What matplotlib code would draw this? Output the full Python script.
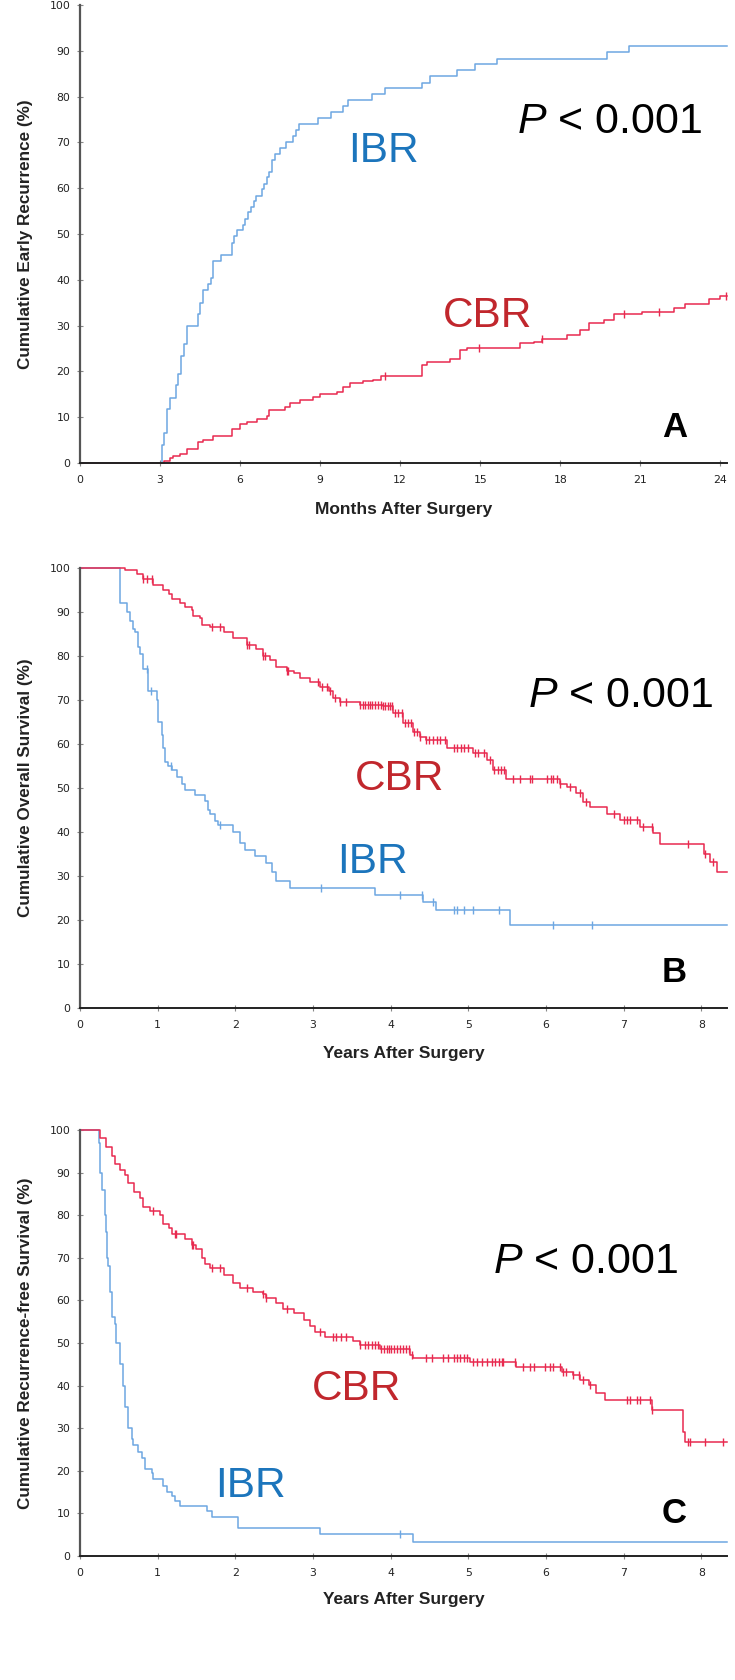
import numpy as np
import matplotlib
matplotlib.use("Agg")
import matplotlib.pyplot as plt

plt.rcParams["mathtext.fontset"] = "custom"
plt.rcParams["mathtext.rm"] = "Liberation Sans"
plt.rcParams["mathtext.it"] = "Liberation Sans:italic"

# ---- Panel A: cumulative early recurrence (months) ----
ibr_a_t = [0, 3.06, 3.16, 3.25, 3.375, 3.59, 3.69, 3.79, 3.9, 4.0,
           4.44, 4.5, 4.6, 4.79, 4.9, 5.0, 5.29, 5.69, 5.79, 5.9,
           6.1, 6.19, 6.31, 6.4, 6.53, 6.6, 6.81, 6.91, 7.0, 7.1,
           7.21, 7.31, 7.5, 7.71, 8.0, 8.1, 8.21, 8.91, 9.41, 9.84,
           10.03, 10.94, 11.44, 12.81, 13.125, 14.125, 14.81, 15.625, 19.75, 20.56]
ibr_a_v = [0, 4.0, 6.6, 11.8, 14.3, 17.0, 19.5, 23.3, 26.0, 30.0,
           32.5, 35.0, 37.7, 39.0, 40.3, 44.2, 45.5, 48.0, 49.6, 50.8,
           52.0, 53.3, 54.7, 56.0, 57.3, 58.4, 59.8, 61.0, 62.4, 63.6,
           66.2, 67.5, 68.8, 70.1, 71.4, 72.8, 74.0, 75.3, 76.6, 77.9,
           79.2, 80.5, 81.9, 83.0, 84.5, 85.8, 87.1, 88.3, 89.7, 91.0]
ibr_a_cens = []

cbr_a_t = [0, 3.15, 3.375, 3.5, 3.75, 4.0, 4.44, 4.625, 5.0, 5.69,
           6.0, 6.25, 6.625, 7.0, 7.1, 7.69, 7.875, 8.25, 8.75, 9.0,
           9.625, 9.875, 10.125, 10.625, 11.0, 11.3, 12.81, 13.0, 13.875, 14.25,
           14.5, 16.5, 17.0, 17.3, 18.25, 18.75, 19.06, 19.625, 20.0, 21.06,
           22.25, 22.69, 23.56, 24.0]
cbr_a_v = [0, 0.5, 1.0, 1.6, 2.0, 3.0, 4.5, 5.0, 6.0, 7.5,
           8.5, 9.0, 9.7, 10.3, 11.5, 12.2, 13.0, 13.7, 14.5, 15.0,
           15.5, 16.5, 17.5, 17.8, 18.1, 19.0, 21.3, 22.1, 22.8, 24.6,
           25.2, 26.1, 26.4, 27.0, 27.9, 29.0, 30.6, 31.3, 32.5, 33.0,
           33.9, 34.8, 35.9, 36.4]
cbr_a_cens = [11.44, 14.94, 17.31, 20.375, 21.69, 24.2]

# ---- Panel B: overall survival (years) ----
ibr_b_t = [0, 0.515, 0.6, 0.644, 0.687, 0.708, 0.751, 0.773, 0.815, 0.88,
           0.987, 1.009, 1.05, 1.07, 1.094, 1.137, 1.18, 1.245, 1.31, 1.35,
           1.48, 1.61, 1.65, 1.67, 1.74, 1.78, 1.97, 2.06, 2.12, 2.25,
           2.4, 2.47, 2.53, 2.7, 3.8, 4.42, 4.59, 5.54]
ibr_b_v = [100, 92, 90, 88, 86, 85.5, 82, 80.5, 77, 72,
           70, 65, 62, 59, 56, 55, 54, 52.5, 51, 49.5,
           48.5, 47, 45, 44, 42.5, 41.5, 40, 37.5, 36, 34.5,
           33, 31, 29, 27.2, 25.7, 24.2, 22.3, 18.9]
ibr_b_cens = [0.86, 0.92, 1.17, 1.8, 3.1, 4.12, 4.4, 4.55, 4.81, 4.85,
              4.94, 5.06, 5.39, 6.09, 6.59]

cbr_b_t = [0, 0.58, 0.73, 0.815, 0.94, 1.07, 1.14, 1.18, 1.29, 1.35,
           1.44, 1.46, 1.55, 1.57, 1.67, 1.85, 1.97, 2.15, 2.27, 2.36,
           2.45, 2.53, 2.66, 2.75, 2.83, 2.96, 3.09, 3.2, 3.26, 3.35,
           3.6, 3.9, 4.03, 4.16, 4.29, 4.38, 4.46, 4.72, 5.06, 5.24,
           5.32, 5.49, 6.18, 6.27, 6.39, 6.48, 6.57, 6.78, 6.95, 7.21,
           7.38, 7.47, 8.03, 8.11, 8.2]
cbr_b_v = [100, 99.5, 98.5, 97.5, 96, 95, 94, 93, 92, 91,
           90.5, 89, 88.5, 87, 86.5, 85.5, 84, 82.5, 81.5, 80,
           79, 77.5, 76.5, 76, 75, 74, 73, 72, 70.5, 69.5,
           68.9, 68.5, 67.0, 64.7, 62.8, 61.6, 60.9, 59.0, 57.9, 56.4,
           54.1, 52.0, 51.0, 50.3, 48.8, 46.9, 45.8, 44.2, 42.7, 41.2,
           39.7, 37.4, 35.1, 33.3, 31.0]
cbr_b_cens = [0.815, 0.86, 0.93, 1.7, 1.8, 2.15, 2.17, 2.36, 2.38, 2.66,
              2.68, 3.07, 3.11, 3.18, 3.22, 3.28, 3.35, 3.43, 3.6, 3.64,
              3.67, 3.71, 3.74, 3.76, 3.8, 3.84, 3.87, 3.9, 3.93, 3.96,
              3.99, 4.02, 4.06, 4.1, 4.14, 4.18, 4.22, 4.26, 4.3, 4.34,
              4.38, 4.46, 4.5, 4.55, 4.6, 4.64, 4.7, 4.81, 4.86, 4.9,
              4.95, 5.0, 5.08, 5.13, 5.2, 5.28, 5.33, 5.38, 5.42, 5.46,
              5.58, 5.67, 5.79, 5.82, 6.01, 6.06, 6.09, 6.14, 6.18, 6.31,
              6.44, 6.52, 6.87, 7.0, 7.04, 7.08, 7.17, 7.25, 7.36, 7.83,
              8.05, 8.15]

# ---- Panel C: recurrence-free survival (years) ----
ibr_c_t = [0, 0.245, 0.258, 0.28, 0.32, 0.335, 0.343, 0.365, 0.386, 0.408,
           0.45, 0.47, 0.515, 0.558, 0.58, 0.622, 0.665, 0.687, 0.75, 0.794,
           0.837, 0.923, 0.944, 1.073, 1.116, 1.18, 1.223, 1.288, 1.63, 1.695,
           2.04, 3.09, 4.29]
ibr_c_v = [100, 97, 90, 86, 80, 76, 70, 68, 62, 56,
           54.5, 50, 45, 40, 35, 30, 27.5, 26, 24.5, 23,
           20.5, 19.5, 18, 16.5, 15, 14, 13, 11.8, 10.5, 9.2,
           6.5, 5.1, 3.4]
ibr_c_cens = [4.12]

cbr_c_t = [0, 0.26, 0.34, 0.41, 0.45, 0.515, 0.58, 0.62, 0.69, 0.77,
           0.815, 0.9, 1.03, 1.07, 1.14, 1.18, 1.35, 1.44, 1.5, 1.57,
           1.61, 1.67, 1.85, 1.97, 2.06, 2.23, 2.36, 2.4, 2.53, 2.62,
           2.75, 2.88, 2.96, 3.03, 3.15, 3.52, 3.6, 3.86, 4.25, 4.29,
           5.02, 5.62, 6.2, 6.35, 6.44, 6.55, 6.65, 6.76, 7.36, 7.77,
           7.79]
cbr_c_v = [100, 98, 96, 94, 92, 90.5, 89.5, 87.5, 85.5, 84,
           82, 81, 80, 78, 77, 75.5, 74.5, 73, 72, 70,
           68.5, 67.5, 66, 64, 63, 62, 61.5, 60.5, 59.5, 58,
           57, 55.5, 54, 52.5, 51.5, 50.5, 49.5, 48.7, 47.2, 46.4,
           45.6, 44.4, 43.3, 42.5, 41.3, 40.1, 38.2, 36.6, 34.3, 29.2,
           26.8]
cbr_c_cens = [0.94, 1.22, 1.24, 1.44, 1.46, 1.7, 1.8, 2.15, 2.36, 2.4,
              2.66, 3.09, 3.26, 3.3, 3.36, 3.43, 3.6, 3.67, 3.71, 3.76,
              3.8, 3.84, 3.88, 3.92, 3.95, 3.98, 4.01, 4.04, 4.08, 4.12,
              4.16, 4.2, 4.24, 4.28, 4.46, 4.53, 4.68, 4.74, 4.81, 4.85,
              4.89, 4.94, 4.98, 5.06, 5.11, 5.17, 5.24, 5.3, 5.34, 5.39,
              5.43, 5.45, 5.6, 5.71, 5.8, 5.84, 5.99, 6.05, 6.09, 6.18,
              6.22, 6.26, 6.35, 6.42, 6.48, 6.57, 7.04, 7.08, 7.17, 7.21,
              7.34, 7.36, 7.83, 7.85, 8.05, 8.28]

ylabels = ["Cumulative Early Recurrence (%)",
           "Cumulative Overall Survival (%)",
           "Cumulative Recurrence-free Survival (%)"]
xlabels = ["Months After Surgery", "Years After Surgery", "Years After Surgery"]
panel_tags = ["A", "B", "C"]

IBR_LINE = "#6ea7e2"
CBR_LINE = "#e8294f"
IBR_TEXT = "#1c75bc"
CBR_TEXT = "#c1272d"


def km(ax, t, v, cens, color, xmax):
    ax.step(t + [xmax], v + [v[-1]], where="post", color=color, lw=1.1,
            clip_on=False, zorder=2)
    if cens:
        t_arr = np.array(t)
        cy = [v[np.searchsorted(t_arr, c, side="right") - 1] for c in cens]
        ax.plot(cens, cy, ls="none", marker="|", ms=6, mew=1.0, color=color,
                clip_on=False, zorder=2)


fig = plt.figure(figsize=(7.35, 16.8), dpi=100)

# [left, bottom, width, height] in figure fraction
boxes = [[0.1088, 0.7244, 0.8803, 0.2726],
         [0.1088, 0.3998, 0.8803, 0.2623],
         [0.1088, 0.0738, 0.8803, 0.2536]]
xmaxs = [24.25, 8.33, 8.33]
xticks = [np.arange(0, 25, 3), np.arange(0, 9, 1)]
label_y = [-0.1026, -0.1015, -0.103]

# text positions (axes fraction): P-value, IBR, CBR, panel letter
p_pos = [(0.675, 0.72), (0.6924, 0.6845), (0.6383, 0.6636)]
ibr_pos = [(0.414, 0.658), (0.397, 0.3073), (0.2087, 0.1392)]
cbr_pos = [(0.561, 0.297), (0.425, 0.4955), (0.3586, 0.3662)]
tag_pos = [(0.8995, 0.0568), (0.8995, 0.0597), (0.8995, 0.0767)]

curves = [
    (ibr_a_t, ibr_a_v, ibr_a_cens, cbr_a_t, cbr_a_v, cbr_a_cens),
    (ibr_b_t, ibr_b_v, ibr_b_cens, cbr_b_t, cbr_b_v, cbr_b_cens),
    (ibr_c_t, ibr_c_v, ibr_c_cens, cbr_c_t, cbr_c_v, cbr_c_cens),
]

for i in range(3):
    ax = fig.add_axes(boxes[i])
    it, iv, ic, ct, cv, cc = curves[i]
    km(ax, it, iv, ic, IBR_LINE, xmaxs[i])
    km(ax, ct, cv, cc, CBR_LINE, xmaxs[i])

    ax.set_xlim(0, xmaxs[i])
    ax.set_ylim(0, 100)
    ax.set_xticks(xticks[0] if i == 0 else xticks[1])
    ax.set_yticks(np.arange(0, 101, 10))

    for s in ["top", "right"]:
        ax.spines[s].set_visible(False)
    ax.spines["left"].set_color("#555555")
    ax.spines["left"].set_linewidth(1.6)
    ax.spines["bottom"].set_color("#222222")
    ax.spines["bottom"].set_linewidth(1.4)
    ax.spines["left"].set_zorder(3)
    ax.spines["bottom"].set_zorder(3)

    ax.tick_params(direction="inout", length=5, width=0.8, color="#888888",
                   labelsize=7.8, labelcolor="#222222")
    ax.tick_params(axis="y", pad=4.5)
    ax.tick_params(axis="x", pad=6)

    ax.set_ylabel(ylabels[i], family="Liberation Sans", fontweight="bold",
                  fontsize=12.3, color="#222222", va="center")
    ax.yaxis.set_label_coords(-0.0835, 0.5)
    ax.set_xlabel(xlabels[i], family="Liberation Sans", fontweight="bold",
                  fontsize=12.5, color="#222222", va="center")
    ax.xaxis.set_label_coords(0.5, label_y[i])

    ax.text(p_pos[i][0], p_pos[i][1], r"$\mathit{P}$ < 0.001",
            transform=ax.transAxes, family="Liberation Sans", fontsize=31,
            color="black", ha="left", va="baseline")
    ax.text(ibr_pos[i][0], ibr_pos[i][1], "IBR", transform=ax.transAxes,
            family="Liberation Sans", fontsize=30.5, color=IBR_TEXT,
            ha="left", va="baseline")
    ax.text(cbr_pos[i][0], cbr_pos[i][1], "CBR", transform=ax.transAxes,
            family="Liberation Sans", fontsize=30.5, color=CBR_TEXT,
            ha="left", va="baseline")
    ax.text(tag_pos[i][0], tag_pos[i][1], panel_tags[i], transform=ax.transAxes,
            family="Liberation Sans", fontsize=25, fontweight="bold",
            color="black", ha="left", va="baseline")

fig.savefig("out.png", dpi=100)
